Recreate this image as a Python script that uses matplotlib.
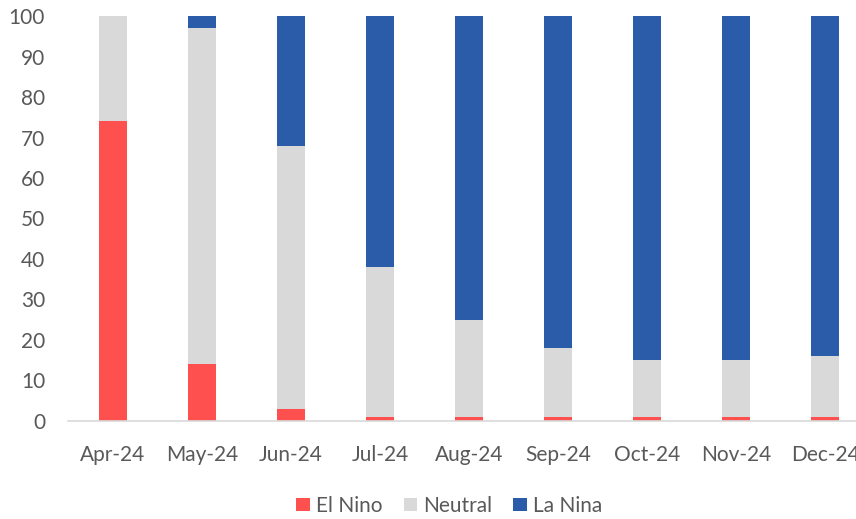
import matplotlib
matplotlib.use("Agg")
import matplotlib.pyplot as plt
import numpy as np

months = ["Apr-24", "May-24", "Jun-24", "Jul-24", "Aug-24", "Sep-24", "Oct-24", "Nov-24", "Dec-24"]
el_nino = [74, 14, 3, 1, 1, 1, 1, 1, 1]
neutral = [26, 83, 65, 37, 24, 17, 14, 14, 15]
la_nina = [0, 3, 32, 62, 75, 82, 85, 85, 84]

plt.rcParams['font.family'] = ['Lato', 'DejaVu Sans']
fig = plt.figure(figsize=(8.56, 5.19), dpi=100)
ax = fig.add_axes([0.0794, 0.189, 0.9206, 0.780])

x = np.arange(len(months))
w = 0.31
el = np.array(el_nino); ne = np.array(neutral); la = np.array(la_nina)
ax.bar(x, el, w, color="#FF5050", label="El Nino")
ax.bar(x, ne, w, bottom=el, color="#D9D9D9", label="Neutral")
ax.bar(x, la, w, bottom=el + ne, color="#2A5CAA", label="La Nina")

ax.set_xlim(-0.506, 8.348)
ax.set_ylim(0, 100)
ax.set_yticks(range(0, 101, 10))
ax.set_xticks(x)
ax.set_xticklabels(months)
for s in ["top", "right", "left"]:
    ax.spines[s].set_visible(False)
ax.spines["bottom"].set_color("#D9D9D9")
ax.spines["bottom"].set_linewidth(1.2)
ax.tick_params(axis="both", length=0, labelsize=15, colors="#595959")
ax.tick_params(axis="x", pad=17)
ax.tick_params(axis="y", pad=16.5)

leg = ax.legend(loc="lower center", bbox_to_anchor=(0.484, -0.255), ncol=3, frameon=False,
                fontsize=15, handlelength=0.65, handleheight=0.65, handletextpad=0.3,
                columnspacing=1.0, borderaxespad=0)
for t in leg.get_texts():
    t.set_color("#595959")

fig.savefig("out.png", dpi=100)
